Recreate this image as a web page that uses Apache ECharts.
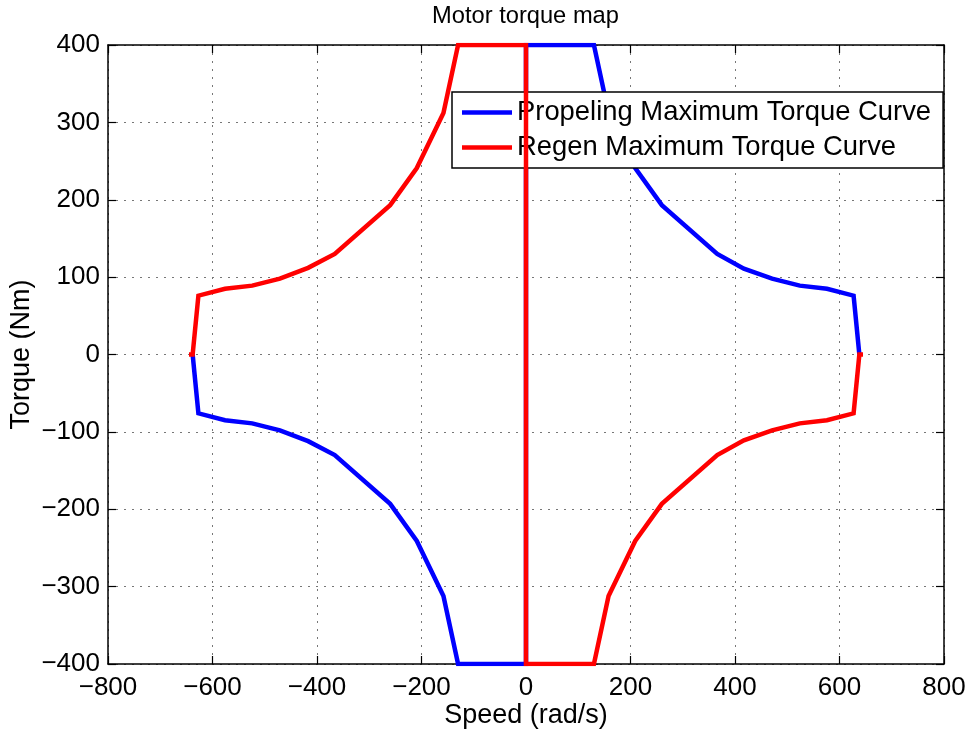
<!DOCTYPE html>
<html>
<head>
<meta charset="utf-8">
<title>Motor torque map</title>
<script src="https://cdn.jsdelivr.net/npm/echarts@6/dist/echarts.min.js"></script>
<style>
  html, body { margin: 0; padding: 0; background: #fff; }
  #chart { width: 969px; height: 732px; }
</style>
</head>
<body>
<div id="chart"></div>
<script>
// Propelling envelope: speed (rad/s) and torque (Nm), quadrant III then quadrant I
const propelSpeed  = [-638, -627, -576, -524, -471, -417, -366, -260, -209, -158, -130, 0, 0, 130, 158, 209, 260, 366, 417, 471, 524, 576, 627, 638];
const propelTorque = [0, -76, -85, -89, -98, -112, -130, -193, -241, -312, -400, -400, 400, 400, 312, 241, 193, 130, 111, 98, 89, 85, 76, 0];

// Regeneration envelope: quadrant II then quadrant IV
const regenSpeed  = [-645, -638, -627, -576, -524, -471, -417, -366, -260, -209, -158, -130, 0, 0, 130, 158, 209, 260, 366, 417, 471, 524, 576, 627, 638, 645];
const regenTorque = [0, 0, 76, 85, 89, 98, 112, 130, 193, 241, 312, 400, 400, -400, -400, -312, -241, -193, -130, -111, -98, -89, -85, -76, 0, 0];

const xTicks = [-800, -600, -400, -200, 0, 200, 400, 600, 800];
const yTicks = [-400, -300, -200, -100, 0, 100, 200, 300, 400];

const pairs = (xs, ys) => xs.map((x, i) => [x, ys[i]]);
const minus = v => String(v).replace('-', '\u2212');
const FONT = "'Liberation Sans', Arial, Helvetica, sans-serif";

const chart = echarts.init(document.getElementById('chart'), null, { renderer: 'canvas' });

const axisLine = { show: true, onZero: false, lineStyle: { color: '#000', width: 1.5 } };
const tick = { show: true, inside: true, length: 8, lineStyle: { color: '#000', width: 1.2 } };
const grid = { show: true, lineStyle: { color: '#777', width: 1, type: [2, 6] } };

chart.setOption({
  animation: false,
  backgroundColor: '#fff',
  title: {
    text: 'Motor torque map',
    left: 432, top: 4, padding: 0,
    textStyle: { fontFamily: FONT, fontSize: 23.7, fontWeight: 'normal', color: '#000' }
  },
  grid: { left: 108, right: 25, top: 45, bottom: 68, containLabel: false, outerBoundsMode: 'none' },
  legend: {
    orient: 'vertical',
    left: 452, top: 92,
    padding: [3, 12, 3, 10],
    itemGap: 0,
    icon: 'rect',
    itemWidth: 50, itemHeight: 4.5,
    backgroundColor: '#fff',
    borderColor: '#000', borderWidth: 1.5, borderRadius: 0,
    textStyle: { fontFamily: FONT, fontSize: 27.4, color: '#000', lineHeight: 35 },
    data: ['Propeling Maximum Torque Curve', 'Regen Maximum Torque Curve']
  },
  xAxis: [{
    type: 'value', min: xTicks[0], max: xTicks[xTicks.length - 1], interval: 200,
    position: 'bottom',
    name: 'Speed (rad/s)', nameLocation: 'middle', nameGap: 38, nameMoveOverlap: false,
    nameTextStyle: { fontFamily: FONT, fontSize: 27, color: '#000' },
    axisLine, axisTick: tick, splitLine: grid,
    axisLabel: { fontFamily: FONT, fontSize: 26, color: '#000', margin: 11, formatter: minus }
  }, {
    type: 'value', min: xTicks[0], max: xTicks[xTicks.length - 1], interval: 200,
    position: 'top',
    axisLine, axisTick: tick, splitLine: { show: false }, axisLabel: { show: false }
  }],
  yAxis: [{
    type: 'value', min: yTicks[0], max: yTicks[yTicks.length - 1], interval: 100,
    position: 'left',
    name: 'Torque (Nm)', nameLocation: 'middle', nameGap: 73, nameRotate: 90, nameMoveOverlap: false,
    nameTextStyle: { fontFamily: FONT, fontSize: 27, color: '#000' },
    axisLine, axisTick: tick, splitLine: grid,
    axisLabel: { fontFamily: FONT, fontSize: 26, color: '#000', margin: 8, formatter: minus }
  }, {
    type: 'value', min: yTicks[0], max: yTicks[yTicks.length - 1], interval: 100,
    position: 'right',
    axisLine, axisTick: tick, splitLine: { show: false }, axisLabel: { show: false }
  }],
  series: [{
    name: 'Propeling Maximum Torque Curve',
    type: 'line', xAxisIndex: 0, yAxisIndex: 0,
    data: pairs(propelSpeed, propelTorque),
    showSymbol: false, symbol: 'none',
    lineStyle: { color: '#0000ff', width: 4.5, join: 'miter' },
    itemStyle: { color: '#0000ff' },
    z: 3
  }, {
    name: 'Regen Maximum Torque Curve',
    type: 'line', xAxisIndex: 0, yAxisIndex: 0,
    data: pairs(regenSpeed, regenTorque),
    showSymbol: false, symbol: 'none',
    lineStyle: { color: '#ff0000', width: 4.5, join: 'miter' },
    itemStyle: { color: '#ff0000' },
    z: 4
  }]
});
</script>
</body>
</html>
